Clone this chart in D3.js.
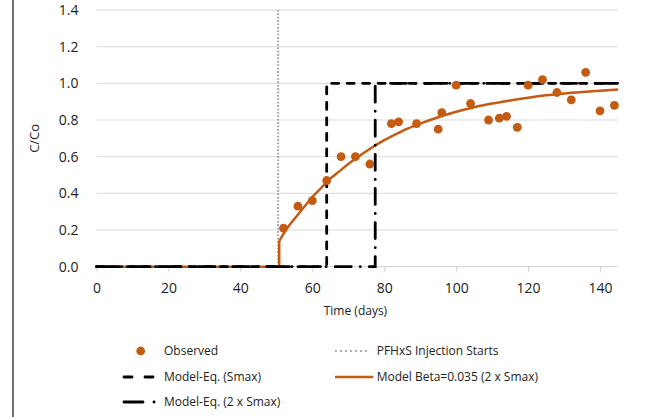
<!DOCTYPE html>
<html>
<head>
<meta charset="utf-8">
<script src="https://cdn.jsdelivr.net/npm/d3@7/dist/d3.min.js"></script>
<style>
  html, body { margin: 0; padding: 0; background: #fff; }
  svg { display: block; font-family: "Open Sans", sans-serif; }
</style>
</head>
<body>
<svg id="chart" width="645" height="417"></svg>
<script>
// ---- Data ----
const xTicks = [0, 20, 40, 60, 80, 100, 120, 140];
const yTicks = [0, 0.2, 0.4, 0.6, 0.8, 1.0, 1.2, 1.4];

// Observed C/Co
const obsT = [52, 56, 60, 64, 68, 72, 76, 82, 84, 89, 95, 96, 100, 104, 109, 112, 114, 117, 120, 124, 128, 132, 136, 140, 144];
const obsV = [0.21, 0.33, 0.36, 0.47, 0.60, 0.60, 0.56, 0.78, 0.79, 0.78, 0.75, 0.84, 0.99, 0.89, 0.80, 0.81, 0.82, 0.76, 0.99, 1.02, 0.95, 0.91, 1.06, 0.85, 0.88];

// Model Beta=0.035 (2 x Smax): flat part with jump, then the rising curve
const betaFlatT = [0, 50.8, 50.8];
const betaFlatV = [0, 0, 0.14];
const betaT = [50.8, 53, 55, 57.5, 60, 62.5, 65, 67.5, 70, 75, 80, 85, 90, 95, 100, 105, 110, 115, 120, 125, 130, 135, 140, 145];
const betaV = [0.14, 0.21, 0.26, 0.32, 0.38, 0.43, 0.48, 0.52, 0.56, 0.63, 0.69, 0.74, 0.78, 0.815, 0.845, 0.87, 0.89, 0.907, 0.922, 0.935, 0.945, 0.953, 0.96, 0.966];

// Model-Eq. (Smax) step
const smaxT = [0, 64, 64, 145];
const smaxV = [0, 0, 1, 1];

// Model-Eq. (2 x Smax) step
const smax2T = [0, 77.5, 77.5, 145];
const smax2V = [0, 0, 1, 1];

// PFHxS injection start
const injT = [50.5, 50.5];
const injV = [0, 1.4];

// ---- Layout ----
const svg = d3.select("#chart");
const x = d3.scaleLinear().domain([0, 145]).range([96.5, 618]);
const y = d3.scaleLinear().domain([0, 1.4]).range([266.7, 10]);
const orange = "#C55A11";

// frame left edge
svg.append("line").attr("x1", 13).attr("x2", 13).attr("y1", 0).attr("y2", 417)
  .attr("stroke", "#404040").attr("stroke-width", 1.5);

// gridlines
svg.append("g").selectAll("line").data(yTicks.filter(d => d > 0)).join("line")
  .attr("x1", x(0)).attr("x2", x(145))
  .attr("y1", d => y(d)).attr("y2", d => y(d))
  .attr("stroke", "#d9d9d9").attr("stroke-width", 1);

// x axis
const xAxis = svg.append("g").attr("transform", `translate(0,${y(0)})`)
  .call(d3.axisBottom(x).tickValues(xTicks).tickSize(5).tickSizeOuter(0).tickPadding(11).tickFormat(d3.format("d")));
xAxis.select(".domain").attr("stroke", "#d0d0d0").attr("d", `M${x(0)},0H${x(145)}`);
xAxis.selectAll(".tick line").attr("stroke", "#d0d0d0");
xAxis.selectAll("text").attr("font-size", 14).attr("fill", "#222").attr("font-family", "Open Sans");

// y axis labels
const yAxis = svg.append("g").attr("transform", `translate(${x(0)},0)`)
  .call(d3.axisLeft(y).tickValues(yTicks).tickSize(0).tickPadding(18).tickFormat(d3.format(".1f")));
yAxis.select(".domain").remove();
yAxis.selectAll("text").attr("font-size", 14).attr("fill", "#222").attr("font-family", "Open Sans");

// axis titles
svg.append("text").attr("x", x(72)).attr("y", 315).attr("text-anchor", "middle")
  .attr("font-size", 12).attr("fill", "#222").text("Time (days)");
svg.append("text").attr("transform", `translate(39,${(y(0) + y(1.4)) / 2}) rotate(-90)`)
  .attr("text-anchor", "middle").attr("font-size", 13).attr("fill", "#222").text("C/Co");

const line = d3.line().x(d => x(d[0])).y(d => y(d[1]));
const smooth = d3.line().x(d => x(d[0])).y(d => y(d[1])).curve(d3.curveMonotoneX);
const zip = (a, b) => a.map((t, i) => [t, b[i]]);

// injection line
svg.append("path").attr("d", line(zip(injT, injV))).attr("fill", "none")
  .attr("stroke", "#a6a6a6").attr("stroke-width", 2).attr("stroke-dasharray", "1.8,1.6");

// beta curve
svg.append("path").attr("d", line(zip(betaFlatT, betaFlatV))).attr("fill", "none")
  .attr("stroke", orange).attr("stroke-width", 2.5).attr("stroke-linejoin", "round");
svg.append("path").attr("d", smooth(zip(betaT, betaV))).attr("fill", "none")
  .attr("stroke", orange).attr("stroke-width", 2.5).attr("stroke-linejoin", "round");

// Smax dashed
svg.append("path").attr("d", line(zip(smaxT, smaxV))).attr("fill", "none")
  .attr("stroke", "#000").attr("stroke-width", 2.8).attr("stroke-linecap", "round")
  .attr("stroke-dasharray", "7,8.5");

// 2 x Smax long dash dot
svg.append("path").attr("d", line(zip(smax2T, smax2V))).attr("fill", "none")
  .attr("stroke", "#000").attr("stroke-width", 2.8).attr("stroke-linecap", "round")
  .attr("stroke-dasharray", "16,9,0.1,9");

// observed points
svg.append("g").selectAll("circle").data(zip(obsT, obsV)).join("circle")
  .attr("cx", d => x(d[0])).attr("cy", d => y(d[1])).attr("r", 4.4).attr("fill", orange);

// ---- Legend ----
const lg = svg.append("g").attr("font-size", 12).attr("fill", "#222");
lg.append("circle").attr("cx", 140.7).attr("cy", 351).attr("r", 4.4).attr("fill", orange);
lg.append("text").attr("x", 164).attr("y", 351).attr("dy", "0.35em").text("Observed");

lg.append("line").attr("x1", 124).attr("x2", 153).attr("y1", 377).attr("y2", 377)
  .attr("stroke", "#000").attr("stroke-width", 2.8).attr("stroke-linecap", "round")
  .attr("stroke-dasharray", "8,13");
lg.append("text").attr("x", 164).attr("y", 377).attr("dy", "0.35em").text("Model-Eq. (Smax)");

lg.append("line").attr("x1", 124).attr("x2", 156).attr("y1", 402).attr("y2", 402)
  .attr("stroke", "#000").attr("stroke-width", 2.8).attr("stroke-linecap", "round")
  .attr("stroke-dasharray", "19,11,0.1,11");
lg.append("text").attr("x", 164).attr("y", 402).attr("dy", "0.35em").text("Model-Eq. (2 x Smax)");

lg.append("line").attr("x1", 335).attr("x2", 368).attr("y1", 351).attr("y2", 351)
  .attr("stroke", "#a6a6a6").attr("stroke-width", 1.8).attr("stroke-dasharray", "1.8,3.2");
lg.append("text").attr("x", 376.7).attr("y", 351).attr("dy", "0.35em").text("PFHxS Injection Starts");

lg.append("line").attr("x1", 335).attr("x2", 373.3).attr("y1", 377).attr("y2", 377)
  .attr("stroke", orange).attr("stroke-width", 2.5);
lg.append("text").attr("x", 376.7).attr("y", 377).attr("dy", "0.35em").text("Model Beta=0.035 (2 x Smax)");
</script>
</body>
</html>
